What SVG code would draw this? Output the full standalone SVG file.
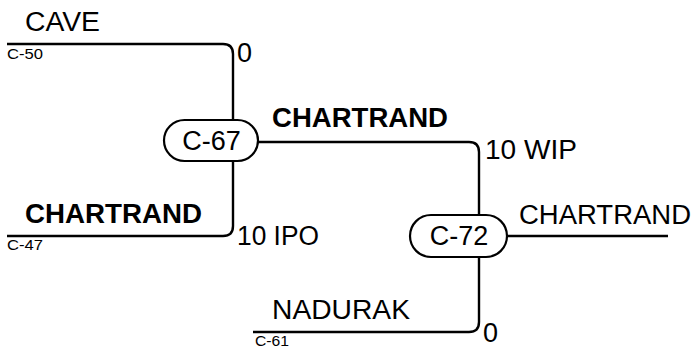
<svg xmlns="http://www.w3.org/2000/svg" width="697" height="349" viewBox="0 0 697 349">
<style>
.ln{fill:none;stroke:#000;stroke-width:2.4}
.pill{fill:#fff;stroke:#000;stroke-width:2.2}
.t{font-family:"Liberation Sans",Arial,sans-serif;font-size:27px;fill:#000}
.b{font-weight:bold}
.s{font-family:"Liberation Sans",Arial,sans-serif;font-size:14px;fill:#000}
.c{text-anchor:middle}
</style>
<rect width="697" height="349" fill="#fff"/>
<g id="connectors">
<path class="ln" d="M7,44 H223 Q233,44 233,54 V130"/>
<path class="ln" d="M7,236 H223 Q233,236 233,226 V150"/>
<path class="ln" d="M250,142 H469 Q479,142 479,152 V225"/>
<path class="ln" d="M253,332 H469 Q479,332 479,322 V250"/>
<path class="ln" d="M500,236 H668"/>
</g>
<g id="C-50">
<text class="t" x="25" y="31" textLength="75" lengthAdjust="spacingAndGlyphs">CAVE</text>
<text class="s" x="7" y="59" textLength="36" lengthAdjust="spacingAndGlyphs">C-50</text>
<text class="t" x="237" y="62">0</text>
</g>
<g id="C-47">
<text class="t b" x="25" y="223" textLength="177" lengthAdjust="spacingAndGlyphs">CHARTRAND</text>
<text class="s" x="7" y="250" textLength="36" lengthAdjust="spacingAndGlyphs">C-47</text>
<text class="t" x="237" y="245" textLength="82" lengthAdjust="spacingAndGlyphs">10 IPO</text>
</g>
<g id="C-67">
<rect class="pill" x="164" y="120" width="94" height="41" rx="20.5"/>
<text class="t c" x="211.5" y="150">C-67</text>
<text class="t b" x="272" y="127" textLength="176" lengthAdjust="spacingAndGlyphs">CHARTRAND</text>
<text class="t" x="485" y="159" textLength="92" lengthAdjust="spacingAndGlyphs">10 WIP</text>
</g>
<g id="C-61">
<text class="t" x="272" y="319" textLength="138" lengthAdjust="spacingAndGlyphs">NADURAK</text>
<text class="s" x="255" y="346" textLength="34" lengthAdjust="spacingAndGlyphs">C-61</text>
<text class="t" x="483" y="342">0</text>
</g>
<g id="C-72">
<rect class="pill" x="410" y="215" width="97" height="42" rx="21"/>
<text class="t c" x="459" y="245">C-72</text>
<text class="t" x="519" y="224" textLength="172" lengthAdjust="spacingAndGlyphs">CHARTRAND</text>
</g>
</svg>
